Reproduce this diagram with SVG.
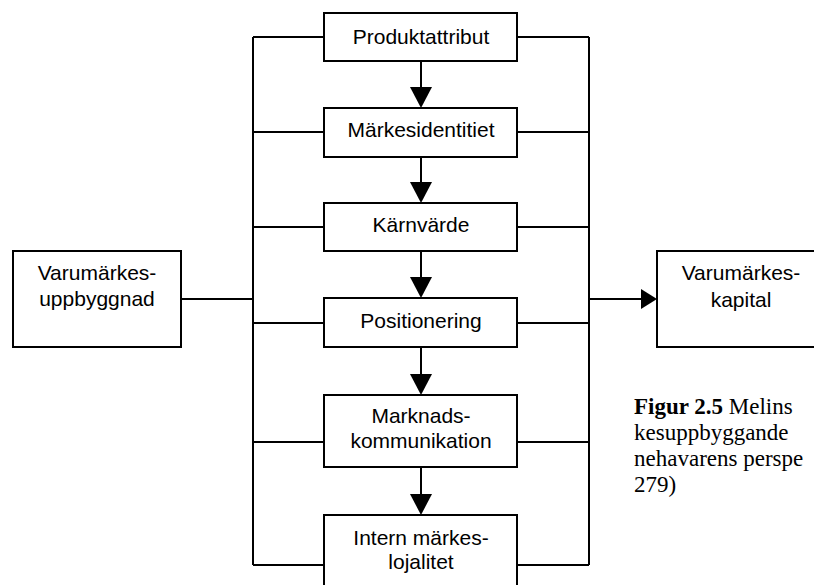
<svg xmlns="http://www.w3.org/2000/svg" width="814" height="585" viewBox="0 0 814 585">
  <defs>
    <marker id="arrV" markerUnits="userSpaceOnUse" markerWidth="21" markerHeight="22" refX="0" refY="11" orient="auto" overflow="visible">
      <path d="M0,0 L21,11 L0,22 z" fill="#000"/>
    </marker>
    <marker id="arrH" markerUnits="userSpaceOnUse" markerWidth="16" markerHeight="20" refX="0" refY="10" orient="auto" overflow="visible">
      <path d="M0,0 L16,10 L0,20 z" fill="#000"/>
    </marker>
  </defs>
  <style>
    .box { fill: #fff; stroke: #000; stroke-width: 2; }
    .lbl { font-family: "Liberation Sans", Arial, sans-serif; font-size: 21px; fill: #000; text-anchor: middle; }
    .line { stroke: #000; stroke-width: 2; fill: none; }
    .cap { font-family: "Liberation Serif", "Times New Roman", serif; font-size: 23px; fill: #000; }
  </style>
  <rect width="814" height="585" fill="#fff"/>

  <g id="connectors">
    <line class="line" x1="253" y1="37" x2="253" y2="565"/>
    <line class="line" x1="589" y1="37" x2="589" y2="565"/>
    <line class="line" x1="253" y1="37" x2="324" y2="37"/>
    <line class="line" x1="253" y1="132" x2="324" y2="132"/>
    <line class="line" x1="253" y1="227" x2="324" y2="227"/>
    <line class="line" x1="253" y1="323" x2="324" y2="323"/>
    <line class="line" x1="253" y1="442" x2="324" y2="442"/>
    <line class="line" x1="253" y1="565" x2="324" y2="565"/>
    <line class="line" x1="517" y1="37" x2="589" y2="37"/>
    <line class="line" x1="517" y1="132" x2="589" y2="132"/>
    <line class="line" x1="517" y1="227" x2="589" y2="227"/>
    <line class="line" x1="517" y1="323" x2="589" y2="323"/>
    <line class="line" x1="517" y1="442" x2="589" y2="442"/>
    <line class="line" x1="517" y1="565" x2="589" y2="565"/>
    <line class="line" x1="181" y1="299" x2="253" y2="299"/>
    <line class="line" x1="589" y1="299" x2="641" y2="299" marker-end="url(#arrH)"/>
    <line class="line" x1="421" y1="61" x2="421" y2="87" marker-end="url(#arrV)"/>
    <line class="line" x1="421" y1="157" x2="421" y2="182" marker-end="url(#arrV)"/>
    <line class="line" x1="421" y1="251" x2="421" y2="277" marker-end="url(#arrV)"/>
    <line class="line" x1="421" y1="347" x2="421" y2="374" marker-end="url(#arrV)"/>
    <line class="line" x1="421" y1="467" x2="421" y2="494" marker-end="url(#arrV)"/>
  </g>

  <g id="produktattribut">
    <rect class="box" x="324" y="13" width="193" height="48"/>
    <text class="lbl" x="421" y="44">Produktattribut</text>
  </g>
  <g id="markesidentitiet">
    <rect class="box" x="324" y="108" width="193" height="49"/>
    <text class="lbl" x="421" y="137">Märkesidentitiet</text>
  </g>
  <g id="karnvarde">
    <rect class="box" x="324" y="203" width="193" height="48"/>
    <text class="lbl" x="421" y="232">Kärnvärde</text>
  </g>
  <g id="positionering">
    <rect class="box" x="324" y="298" width="193" height="49"/>
    <text class="lbl" x="421" y="328">Positionering</text>
  </g>
  <g id="marknadskommunikation">
    <rect class="box" x="324" y="395" width="193" height="72"/>
    <text class="lbl" x="421" y="423">Marknads-</text>
    <text class="lbl" x="421" y="448">kommunikation</text>
  </g>
  <g id="intern-markeslojalitet">
    <rect class="box" x="324" y="515" width="193" height="80"/>
    <text class="lbl" x="421" y="545">Intern märkes-</text>
    <text class="lbl" x="421" y="569">lojalitet</text>
  </g>
  <g id="varumarkesuppbyggnad">
    <rect class="box" x="13" y="251" width="168" height="96"/>
    <text class="lbl" x="97" y="280">Varumärkes-</text>
    <text class="lbl" x="97" y="306">uppbyggnad</text>
  </g>
  <g id="varumarkeskapital">
    <rect class="box" x="657" y="251" width="170" height="96"/>
    <text class="lbl" x="741" y="280">Varumärkes-</text>
    <text class="lbl" x="741" y="307">kapital</text>
  </g>

  <g id="caption">
    <text class="cap" x="634" y="414"><tspan font-weight="bold">Figur 2.5</tspan> Melins</text>
    <text class="cap" x="634" y="440">kesuppbyggande</text>
    <text class="cap" x="634" y="466">nehavarens perspe</text>
    <text class="cap" x="634" y="492">279)</text>
  </g>
</svg>
